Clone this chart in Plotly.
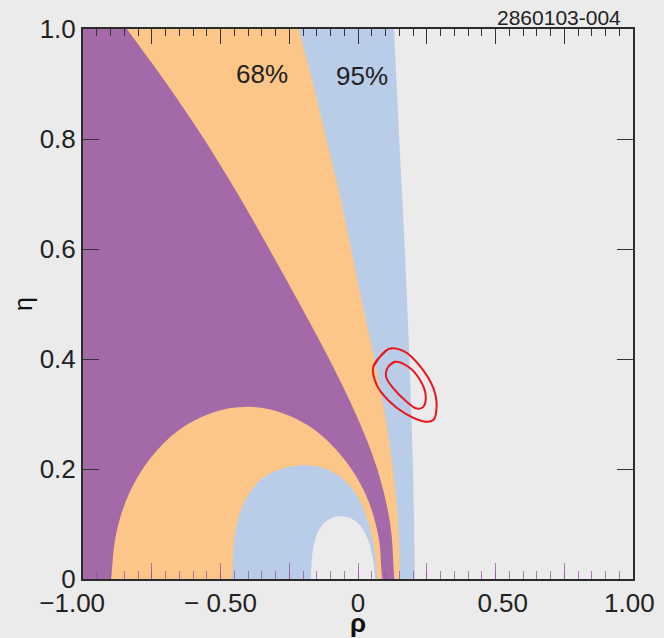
import plotly.graph_objects as go

# ---------------- data ----------------
# right-hand boundaries of the three nested bands (top -> bottom)
blue_edge_rho = [0.131, 0.150, 0.170, 0.187, 0.200, 0.207]
blue_edge_eta = [1.0, 0.8, 0.6, 0.4, 0.2, 0.0]

orange_edge_rho = [-0.215, -0.163, -0.115, -0.067, -0.025, 0.016, 0.060, 0.098, 0.127, 0.146, 0.153]
orange_edge_eta = [1.0, 0.9, 0.8, 0.7, 0.6, 0.5, 0.4, 0.3, 0.2, 0.1, 0.0]

purple_edge_rho = [-0.84, -0.695, -0.56, -0.437, -0.323, -0.212, -0.105, -0.008, 0.070, 0.117, 0.132]
purple_edge_eta = [1.0, 0.9, 0.8, 0.7, 0.6, 0.5, 0.4, 0.3, 0.2, 0.1, 0.0]

# arches sitting on the rho axis (left foot -> right foot)
orange_arch_rho = [-0.898, -0.880, -0.832, -0.753, -0.651, -0.532, -0.404, -0.276, -0.157, -0.055, 0.026, 0.073, 0.088]
orange_arch_eta = [0.0, 0.081, 0.156, 0.221, 0.271, 0.302, 0.313, 0.302, 0.271, 0.221, 0.156, 0.081, 0.0]

blue_arch_rho = [-0.458, -0.448, -0.426, -0.394, -0.345, -0.28, -0.20, -0.12, -0.05, 0.005, 0.042, 0.062, 0.070]
blue_arch_eta = [0.0, 0.080, 0.125, 0.157, 0.184, 0.200, 0.207, 0.201, 0.180, 0.144, 0.095, 0.045, 0.0]

gray_arch_rho = [-0.172, -0.165, -0.148, -0.125, -0.095, -0.059, -0.025, 0.005, 0.035, 0.054, 0.063]
gray_arch_eta = [0.0, 0.050, 0.083, 0.101, 0.111, 0.114, 0.110, 0.099, 0.073, 0.037, 0.0]

# global-fit contours (closed)
outer_rho = [0.0556, 0.110, 0.171, 0.232, 0.274, 0.286, 0.274, 0.244, 0.171, 0.110, 0.068]
outer_eta = [0.386, 0.418, 0.413, 0.383, 0.347, 0.316, 0.289, 0.286, 0.301, 0.325, 0.353]
inner_rho = [0.110, 0.1345, 0.183, 0.2255, 0.246, 0.2375, 0.2135, 0.171, 0.128, 0.102]
inner_eta = [0.386, 0.395, 0.386, 0.362, 0.3345, 0.313, 0.310, 0.325, 0.347, 0.368]

NB = "\u00a0"
x_tick_vals = [-1, -0.75, -0.5, -0.25, 0, 0.25, 0.5, 0.75, 1]
x_tick_text = ["\u22121.00" + NB * 3, "", "\u2212 0.50", "", "0", "", NB * 2 + "0.50", "", "1.00" + NB]
y_tick_vals = [0, 0.2, 0.4, 0.6, 0.8, 1.0]
y_tick_text = ["0", "0.2", "0.4", "0.6", "0.8", "1.0"]

PURPLE = "#A369A9"
ORANGE = "#FBC688"
BLUE = "#B9CDE8"
BG = "#EBEBEB"
RED = "#E8161E"
FONT = "Liberation Sans, Arial, sans-serif"


def extend(rhos, etas, top_extra=(0.15, 0.5), bottom_extra=(-0.12, -0.5)):
    """Continue a curve straight past its two ends so that spline corners fall outside the axes."""
    r0, e0, r1, e1 = rhos[0], etas[0], rhos[1], etas[1]
    s0 = (r0 - r1) / (e0 - e1)
    rn, en, rm, em = rhos[-1], etas[-1], rhos[-2], etas[-2]
    sn = (rn - rm) / (en - em)
    if e0 >= 0.99:
        pre_e = [e0 + top_extra[1], e0 + top_extra[0]]
    else:
        pre_e = [e0 + bottom_extra[1], e0 + bottom_extra[0]]
    post_e = [en + bottom_extra[0], en + bottom_extra[1]]
    pre_r = [r0 + s0 * (e - e0) for e in pre_e]
    post_r = [rn + sn * (e - en) for e in post_e]
    return pre_r + list(rhos) + post_r, pre_e + list(etas) + post_e


def band(rhos, etas):
    xr, ye = extend(rhos, etas)
    return [-1.6, -1.6] + xr, [-0.7, 1.7] + ye


fig = go.Figure()


def add_fill(xs, ys, color):
    fig.add_trace(go.Scatter(x=xs, y=ys, mode="lines", fill="toself", fillcolor=color,
                             line=dict(width=0, color=color, shape="spline", smoothing=1),
                             hoverinfo="skip", showlegend=False))


for er, ee, col in [(blue_edge_rho, blue_edge_eta, BLUE),
                    (orange_edge_rho, orange_edge_eta, ORANGE),
                    (purple_edge_rho, purple_edge_eta, PURPLE)]:
    xs, ys = band(er, ee)
    add_fill(xs, ys, col)

for ar, ae, col in [(orange_arch_rho, orange_arch_eta, ORANGE),
                    (blue_arch_rho, blue_arch_eta, BLUE),
                    (gray_arch_rho, gray_arch_eta, BG)]:
    xs, ys = extend(ar, ae)
    add_fill(xs, ys, col)

for cr, ce in [(outer_rho, outer_eta), (inner_rho, inner_eta)]:
    fig.add_trace(go.Scatter(x=cr + cr[:2], y=ce + ce[:2], mode="lines",
                             line=dict(color=RED, width=2, shape="spline", smoothing=1),
                             hoverinfo="skip", showlegend=False))

# empty trace on the top axis so it is drawn
fig.add_trace(go.Scatter(x=[None], y=[None], xaxis="x2", yaxis="y", showlegend=False))

fig.add_annotation(x=-0.349, y=0.918, text="68%", showarrow=False,
                   font=dict(family=FONT, size=26, color="#222"))
fig.add_annotation(x=0.0145, y=0.915, text="95%", showarrow=False,
                   font=dict(family=FONT, size=26, color="#222"))
fig.add_annotation(xref="paper", yref="paper", x=0.982, y=1.0218, text="2860103-004",
                   showarrow=False, xanchor="right", yanchor="middle",
                   font=dict(family=FONT, size=21, color="#222"))

AX_LINE = "#2b2b2b"
BOTTOM_TICK = "rgba(150,80,165,0.75)"

fig.update_layout(
    width=664, height=638,
    margin=dict(l=83, r=31, t=29, b=59, autoexpand=False),
    paper_bgcolor=BG, plot_bgcolor=BG,
    showlegend=False,
    font=dict(family=FONT, color="#222"),
    xaxis=dict(
        range=[-1, 1], tickmode="array", tickvals=x_tick_vals, ticktext=x_tick_text,
        ticks="inside", ticklen=16, tickwidth=1, tickcolor=BOTTOM_TICK,
        minor=dict(tickmode="linear", tick0=-1, dtick=0.05, ticks="inside", ticklen=8,
                   tickwidth=1, tickcolor=BOTTOM_TICK, showgrid=False),
        showline=True, linecolor=AX_LINE, linewidth=2, showgrid=False, zeroline=False,
        tickfont=dict(family=FONT, size=26, color="#222"),
        ticklabeloverflow="allow",
        title=dict(text="<b>ρ</b>", font=dict(family=FONT, size=26, color="#111"), standoff=8),
        automargin=False, fixedrange=True,
    ),
    xaxis2=dict(
        range=[-1, 1], overlaying="x", side="top", anchor="y",
        tickmode="array", tickvals=x_tick_vals, showticklabels=False,
        ticks="inside", ticklen=15, tickwidth=1, tickcolor="#333",
        minor=dict(tickmode="linear", tick0=-1, dtick=0.05, ticks="inside", ticklen=7,
                   tickwidth=1, tickcolor="#333", showgrid=False),
        showline=True, linecolor=AX_LINE, linewidth=2, showgrid=False, zeroline=False,
        automargin=False,
    ),
    yaxis=dict(
        range=[0, 1], tickmode="array", tickvals=y_tick_vals, ticktext=y_tick_text,
        ticks="inside", ticklen=16, tickwidth=1, tickcolor="#333", mirror="ticks",
        showline=True, linecolor=AX_LINE, linewidth=2, showgrid=False, zeroline=False,
        tickfont=dict(family=FONT, size=26, color="#222"),
        ticklabeloverflow="allow",
        title=dict(text="η", font=dict(family=FONT, size=25, color="#111"), standoff=0),
        automargin=False, fixedrange=True,
    ),
)

fig.write_html(
    "out.html",
    config={"displayModeBar": False},
    post_script="document.body.style.margin='0';document.body.style.background='#EBEBEB';"
                "document.body.style.overflow='hidden';",
)
